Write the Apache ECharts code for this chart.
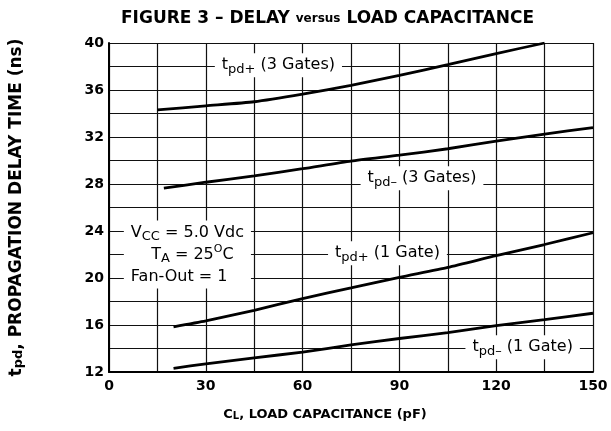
<!DOCTYPE html>
<html>
<head>
<meta charset="utf-8">
<script src="https://cdn.jsdelivr.net/npm/echarts@6/dist/echarts.min.js"></script>
<style>
  html, body { margin: 0; background: #fff; }
  #chart { width: 611px; height: 431px; }
</style>
</head>
<body>
<div id="chart"></div>
<script>
// load capacitance (pF) vs propagation delay (ns)
const capPlus3 = [15, 30, 45, 60, 75, 90, 105, 120, 135];
const tpdPlus3 = [34.3, 34.65, 35.0, 35.65, 36.4, 37.25, 38.15, 39.1, 40.0];

const capMinus3 = [17, 30, 45, 60, 75, 90, 105, 120, 135, 150];
const tpdMinus3 = [27.65, 28.15, 28.7, 29.3, 29.95, 30.45, 31.0, 31.65, 32.25, 32.8];

const capPlus1 = [20, 30, 45, 60, 75, 90, 105, 120, 135, 150];
const tpdPlus1 = [15.85, 16.35, 17.25, 18.25, 19.15, 20.05, 20.9, 21.9, 22.85, 23.85];

const capMinus1 = [20, 30, 45, 60, 75, 90, 105, 120, 135, 150];
const tpdMinus1 = [12.3, 12.7, 13.2, 13.7, 14.3, 14.85, 15.35, 15.95, 16.45, 17.0];

const xTickLabels = [0, 30, 60, 90, 120, 150];
const yTickLabels = [12, 16, 20, 24, 28, 32, 36, 40];

// curve labels and the test conditions box
const noteTexts = [
  't{sub|pd+} (3 Gates)',
  't{sub|pd–} (3 Gates)',
  't{sub|pd+} (1 Gate)',
  't{sub|pd–} (1 Gate)',
  'V{sub|CC} = 5.0 Vdc\n    T{sub|A} = 25{sup|O}C\nFan-Out = 1'
];
const noteAt = [[52.5, 38.1], [97, 28.5], [86.3, 22.1], [128.2, 14.1], [4.6, 22.0]];

const pairs = (xs, ys) => xs.map((x, i) => [x, ys[i]]);

const font = 'DejaVu Sans';
const chart = echarts.init(document.getElementById('chart'));

const curve = (name, xs, ys) => ({
  name,
  type: 'line',
  data: pairs(xs, ys),
  smooth: 0.2,
  symbol: 'none',
  lineStyle: { color: '#000', width: 2.8 },
  z: 3
});

const option = {
  backgroundColor: '#fff',
  animation: false,
  title: {
    text: 'FIGURE 3 – DELAY {s|versus} LOAD CAPACITANCE',
    left: 116,
    top: 5,
    textStyle: {
      fontFamily: font, fontWeight: 'bold', fontSize: 17, color: '#000',
      rich: { s: { fontFamily: font, fontWeight: 'bold', fontSize: 12, color: '#000' } }
    }
  },
  grid: { left: 104, right: 18, top: 43, bottom: 59 },
  xAxis: {
    type: 'value',
    min: 0, max: 150, interval: 15,
    name: 'C{sub|L}, LOAD CAPACITANCE (pF)',
    nameLocation: 'middle',
    nameGap: 36,
    nameTextStyle: {
      fontFamily: font, fontWeight: 'bold', fontSize: 13, color: '#000',
      padding: [0, 52, 0, 0],
      rich: { sub: { fontFamily: font, fontWeight: 'bold', fontSize: 10, lineHeight: 10, verticalAlign: 'bottom' } }
    },
    axisLine: { lineStyle: { color: '#000', width: 2 } },
    axisTick: { show: false },
    axisLabel: {
      margin: 7,
      fontFamily: font, fontWeight: 'bold', fontSize: 14, color: '#000',
      formatter: v => (xTickLabels.includes(v) ? String(v) : '')
    },
    splitLine: { show: true, lineStyle: { color: '#111', width: 1.2 } }
  },
  yAxis: {
    type: 'value',
    min: 12, max: 40, interval: 2,
    name: 't{sub|pd}, PROPAGATION DELAY TIME (ns)',
    nameLocation: 'middle',
    nameGap: 84,
    nameTextStyle: {
      fontFamily: font, fontWeight: 'bold', fontSize: 17, color: '#000',
      rich: { sub: { fontFamily: font, fontWeight: 'bold', fontSize: 13, lineHeight: 10, verticalAlign: 'bottom' } }
    },
    axisLine: { lineStyle: { color: '#000', width: 2 } },
    axisTick: { show: false },
    axisLabel: {
      margin: 5,
      fontFamily: font, fontWeight: 'bold', fontSize: 14, color: '#000',
      formatter: v => (yTickLabels.includes(v) ? String(v) : '')
    },
    splitLine: { show: true, lineStyle: { color: '#111', width: 1.2 } }
  },
  series: [
    curve('tpd+ 3', capPlus3, tpdPlus3),
    curve('tpd- 3', capMinus3, tpdMinus3),
    curve('tpd+ 1', capPlus1, tpdPlus1),
    curve('tpd- 1', capMinus1, tpdMinus1),
    {
      name: 'notes',
      type: 'scatter',
      symbolSize: 1,
      itemStyle: { color: 'rgba(0,0,0,0)', opacity: 1 },
      z: 5,
      data: noteAt.map((p, i) => ({
        value: p,
        label: {
          show: true,
          position: 'inside',
          formatter: noteTexts[i],
          align: i === 4 ? 'left' : 'center'
        }
      })),
      label: {
        fontFamily: font, fontSize: 16, color: '#000',
        opacity: 1,
        lineHeight: 22,
        backgroundColor: '#fff',
        padding: [1, 7],
        rich: {
          sub: { fontFamily: font, fontSize: 13, color: '#000', lineHeight: 12, verticalAlign: 'bottom' },
          sup: { fontFamily: font, fontSize: 11, color: '#000', lineHeight: 12, verticalAlign: 'top' }
        }
      }
    }
  ]
};

chart.setOption(option);
</script>
</body>
</html>
